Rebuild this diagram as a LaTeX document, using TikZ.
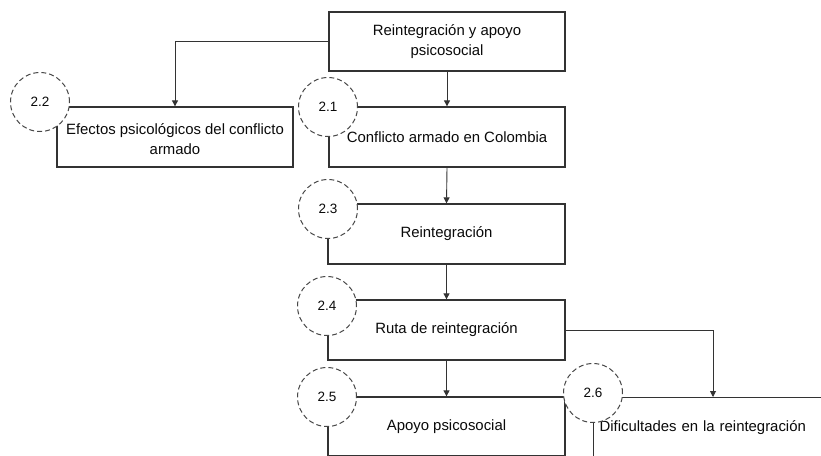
\documentclass[tikz,border=0pt]{standalone}
\usepackage{fontspec}
\setmainfont{Liberation Sans}
\usetikzlibrary{arrows.meta,calc}
\definecolor{linecol}{HTML}{333333}
\definecolor{txtcol}{HTML}{0A0A0A}
\tikzset{
  boxnode/.style={draw=linecol, line width=1.3pt, rectangle, minimum width=236pt, minimum height=60pt,
    inner sep=0pt, align=center, text=txtcol, font=\fontsize{14.9}{20}\selectfont},
  numcirc/.style={draw=linecol!90, line width=1pt, dash pattern=on 5pt off 3pt, circle, fill=white,
    minimum size=59pt, inner sep=0pt, text=txtcol, font=\fontsize{13.5}{15}\selectfont},
  arr/.style={draw=linecol, line width=0.9pt, -{Triangle[length=6pt,width=6pt]}}
}
\begin{document}
\begin{tikzpicture}[x=1pt,y=-1pt]
\useasboundingbox (0,0) rectangle (821,455);
\clip (0,0) rectangle (821,455);
\fill[white] (0,0) rectangle (821,455);
% boxes
\node[boxnode, minimum height=59pt] (top) at (447,41.5) {Reintegración y apoyo\\psicosocial};
\node[boxnode] (b21) at (447,137) {Conflicto armado en Colombia};
\node[boxnode, text height=36pt] (b22) at (175,137) {Efectos psicológicos del conflicto\\armado};
\node[boxnode, minimum width=237pt] (b23) at (446.5,234) {Reintegración};
\node[boxnode, minimum width=237pt] (b24) at (446.5,330) {Ruta de reintegración};
\node[boxnode, minimum width=237pt, minimum height=59pt] (b25) at (446.5,426.5) {Apoyo psicosocial};
\node[boxnode, minimum height=59pt, text width=250pt, inner xsep=6pt, align=left, anchor=north west] (b26) at (593,397) {Dificultades en la reintegración};
% connectors
\draw[arr] (top.west) -| (b22.north);
\draw[arr] (top.south) -- (b21.north);
\draw[arr] (b21.south) -- (b23.north);
\draw[arr] (b23.south) -- (b24.north);
\draw[arr] (b24.south) -- (b25.north);
\draw[arr] (b24.east) -| ([xshift=120pt]b26.north west);
% numbered circles
\node[numcirc] (c22) at (40,102) {2.2};
\node[numcirc] (c21) at (328,107) {2.1};
\node[numcirc] (c23) at (328,209) {2.3};
\node[numcirc] (c24) at (327,306) {2.4};
\node[numcirc] (c25) at (327,397) {2.5};
\node[numcirc] (c26) at (593,393) {2.6};
\end{tikzpicture}
\end{document}
